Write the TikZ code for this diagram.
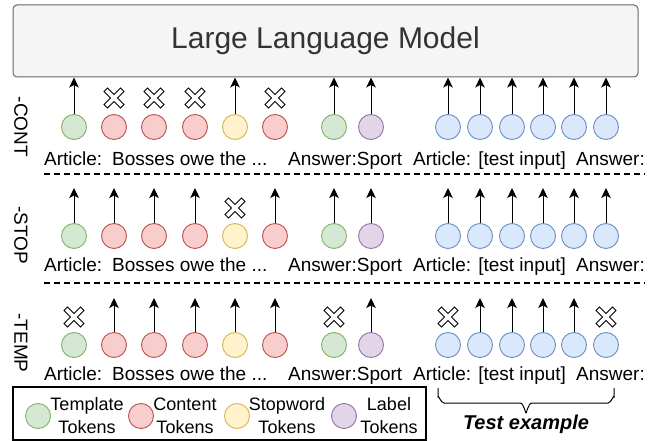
\documentclass[tikz,border=0pt]{standalone}
\usepackage{fontspec}
\setmainfont{Liberation Sans}
\usetikzlibrary{arrows.meta,calc}

% token palette
\definecolor{tmplFill}{HTML}{D5E8D4}\definecolor{tmplLine}{HTML}{82B366}
\definecolor{contFill}{HTML}{F8CECC}\definecolor{contLine}{HTML}{B85450}
\definecolor{stopFill}{HTML}{FFF2CC}\definecolor{stopLine}{HTML}{D6B656}
\definecolor{labFill}{HTML}{E1D5E7}\definecolor{labLine}{HTML}{9673A6}
\definecolor{testFill}{HTML}{DAE8FC}\definecolor{testLine}{HTML}{6C8EBF}
\definecolor{modelFill}{HTML}{F5F5F5}\definecolor{modelLine}{HTML}{666666}
\definecolor{modelText}{HTML}{333333}

\tikzset{
  dropmark/.pic={
    \draw[fill=white, line width=0.9pt, rotate=45]
      (-11.6,-2.5) -- (-2.5,-2.5) -- (-2.5,-11.6) -- (2.5,-11.6) -- (2.5,-2.5)
      -- (11.6,-2.5) -- (11.6,2.5) -- (2.5,2.5) -- (2.5,11.6) -- (-2.5,11.6)
      -- (-2.5,2.5) -- (-11.6,2.5) -- cycle;
  }
}

\begin{document}
\begin{tikzpicture}[x=1pt, y=-1pt,
  tok/.style={circle, minimum size=25pt, inner sep=0pt, line width=0.9pt},
  tmpl/.style={tok, fill=tmplFill, draw=tmplLine},
  cont/.style={tok, fill=contFill, draw=contLine},
  stopw/.style={tok, fill=stopFill, draw=stopLine},
  lab/.style={tok, fill=labFill, draw=labLine},
  test/.style={tok, fill=testFill, draw=testLine},
  up/.style={-{Stealth[length=10pt, width=9.5pt, inset=2.5pt]}, line width=1pt},
  words/.style={font=\fontsize{19}{22}\selectfont, inner sep=0pt, anchor=base west},
  rowname/.style={font=\fontsize{19}{22}\selectfont, inner sep=0pt, rotate=-90},
  sep/.style={line width=2pt, dash pattern=on 6pt off 4pt},
  legtext/.style={font=\fontsize{18}{23}\selectfont, align=center, inner sep=0pt},
]
\useasboundingbox (0,0) rectangle (657,441);

% the model
\node[draw=modelLine, fill=modelFill, rounded corners=4pt, line width=1pt,
      minimum width=625pt, minimum height=72pt, inner sep=0pt,
      text=modelText, font=\fontsize{30}{34}\selectfont] (llm) at (325.5,41)
      {Large Language Model};

% arrow tip levels of the lower rows
\coordinate (top2) at (0,188);
\coordinate (top3) at (0,298);

% token rows
\foreach \r/\y in {1/127, 2/236, 3/345} {
  \foreach \i/\x/\t in {1/74/tmpl, 2/114/cont, 3/154/cont, 4/195/cont,
                        5/235/stopw, 6/275/cont, 7/334/tmpl, 8/371/lab,
                        9/448/test, 10/480/test, 11/512/test, 12/543/test,
                        13/574/test, 14/606/test}
    \node[\t] (c\r-\i) at (\x,\y) {};
}

% row 1: content tokens removed
\foreach \i in {1,5,7,8,9,10,11,12,13,14}
  \draw[up] (c1-\i.north) -- (c1-\i |- llm.south);
\foreach \i in {2,3,4,6}
  \pic at ($(c1-\i)+(0,-29)$) {dropmark};

% row 2: stopword tokens removed
\foreach \i in {1,2,3,4,6,7,8,9,10,11,12,13,14}
  \draw[up] (c2-\i.north) -- (c2-\i |- top2);
\pic at ($(c2-5)+(0,-28)$) {dropmark};

% row 3: template tokens removed
\foreach \i in {2,3,4,5,6,8,10,11,12,13}
  \draw[up] (c3-\i.north) -- (c3-\i |- top3);
\foreach \i in {1,7,9,14}
  \pic at ($(c3-\i)+(0,-28)$) {dropmark};

% row texts
\foreach \r/\b in {1/166, 2/272, 3/380} {
  \node[words] (t\r-1) at (44,\b) {Article:};
  \node[words] (t\r-2) at (112,\b) {Bosses owe the ...};
  \node[words] (t\r-3) at (288,\b) {Answer:Sport};
  \node[words] (t\r-4) at (413,\b) {Article: [test input]};
  \node[words] (t\r-5) at (576,\b) {Answer:};
}

% row names
\node[rowname] (n1) at (21,127) {-CONT};
\node[rowname] (n2) at (21,235) {-STOP};
\node[rowname] (n3) at (21,343) {-TEMP};

% separators
\coordinate (s1a) at (44,174); \coordinate (s1b) at (645,174);
\coordinate (s2a) at (44,283); \coordinate (s2b) at (645,283);
\draw[sep] (s1a) -- (s1b);
\draw[sep] (s2a) -- (s2b);

% legend
\node[draw, line width=1.2pt, minimum width=413pt, minimum height=53pt,
      inner sep=0pt] (legend) at (219.5,413.5) {};
\node[tmpl] (g1) at (38,416) {};
\node[cont] (g2) at (141,416) {};
\node[stopw] (g3) at (237,416) {};
\node[lab] (g4) at (344,416) {};
\node[legtext] (l1) at (87,416) {Template\\Tokens};
\node[legtext] (l2) at (185,416) {Content\\Tokens};
\node[legtext] (l3) at (287,416) {Stopword\\Tokens};
\node[legtext] (l4) at (389,416) {Label\\Tokens};

% brace under the test example
\coordinate (b1) at (438,388);
\coordinate (b2) at (614,388);
\coordinate (bt) at (526,412);
\draw[line width=1pt] (b1) -- (438,397) to[out=90, in=180] (444,403) -- (520,403)
  to[out=0, in=-90] (bt);
\draw[line width=1pt] (bt) to[out=-90, in=180] (532,403) -- (608,403)
  to[out=0, in=90] (614,397) -- (b2);
\node[font=\fontsize{20}{24}\selectfont\bfseries\itshape, inner sep=0pt]
  (testlbl) at (526,424) {Test example};
\end{tikzpicture}
\end{document}
